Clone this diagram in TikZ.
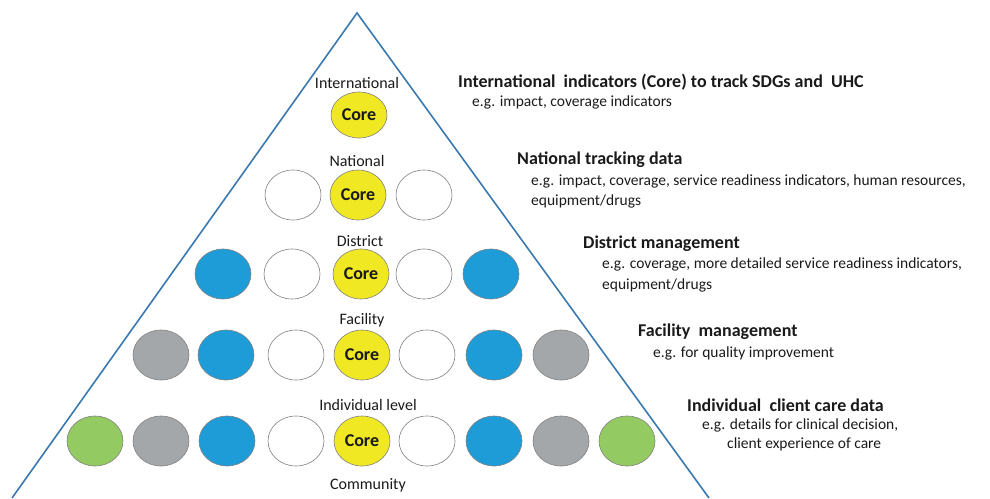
\documentclass[tikz,border=0pt]{standalone}
\usepackage{fontspec}
\setmainfont{Carlito}
\usetikzlibrary{shapes.geometric}
\definecolor{tri}{HTML}{3A78B0}
\definecolor{cyel}{HTML}{EFE822}
\definecolor{cblu}{HTML}{1E9CD7}
\definecolor{cgry}{HTML}{A4A7A9}
\definecolor{cgrn}{HTML}{93CB62}
\definecolor{txt}{HTML}{1A1A1A}
\tikzset{
  dot/.style={ellipse, draw=black!50, line width=0.6pt, minimum width=56pt, minimum height=50pt, inner sep=0pt},
  wdot/.style={dot, fill=white},
  ydot/.style={dot, fill=cyel, font=\fontsize{18}{20}\selectfont\bfseries, text=txt},
  bdot/.style={dot, fill=cblu},
  gdot/.style={dot, fill=cgry},
  edot/.style={dot, fill=cgrn},
  lvl/.style={font=\fontsize{16}{18}\selectfont, text=txt, inner sep=0pt},
  head/.style={font=\fontsize{18}{20}\selectfont\bfseries, text=txt, anchor=west, inner sep=0pt},
  sub/.style={font=\fontsize{15.5}{18}\selectfont, text=txt, anchor=west, inner sep=0pt},
}
\begin{document}
\begin{tikzpicture}[x=1pt,y=-1pt]
\useasboundingbox (0,0) rectangle (990,498);
% triangle
\coordinate (apex) at (357,13);
\coordinate (bl) at (12,498);
\coordinate (br) at (709,498);
\draw[tri, line width=1.6pt, line join=miter] (bl) -- (apex) -- (br);
% row 1
\node[lvl] (l1) at (357,83) {International};
\node[ydot, minimum height=46pt] (c1) at (359,115) {Core};
% row 2
\node[lvl] (l2) at (357,161) {National};
\node[wdot] (r2a) at (293,195) {};
\node[ydot] (c2) at (358,195) {Core};
\node[wdot] (r2b) at (424,195) {};
% row 3
\node[lvl] (l3) at (360,241) {District};
\node[bdot] (r3a) at (223,274) {};
\node[wdot] (r3b) at (292,274) {};
\node[ydot] (c3) at (361,274) {Core};
\node[wdot] (r3c) at (424,274) {};
\node[bdot] (r3d) at (491,274) {};
% row 4
\node[lvl] (l4) at (362,320) {Facility};
\node[gdot] (r4a) at (161,355) {};
\node[bdot] (r4b) at (226,355) {};
\node[wdot] (r4c) at (296,355) {};
\node[ydot] (c4) at (362,355) {Core};
\node[wdot] (r4d) at (427,355) {};
\node[bdot] (r4e) at (494,355) {};
\node[gdot] (r4f) at (561,355) {};
% row 5
\node[lvl] (l5) at (368,405) {Individual level};
\node[edot] (r5a) at (95,441) {};
\node[gdot] (r5b) at (161,441) {};
\node[bdot] (r5c) at (227,441) {};
\node[wdot] (r5d) at (296,441) {};
\node[ydot] (c5) at (362,441) {Core};
\node[wdot] (r5e) at (427,441) {};
\node[bdot] (r5f) at (494,441) {};
\node[gdot] (r5g) at (561,441) {};
\node[edot] (r5h) at (627,441) {};
\node[lvl] (l6) at (368,485) {Community};
% right texts
\node[head] (h1) at (458,82) {International\ \ indicators (Core) to track SDGs and\ \ UHC};
\node[sub] (s1) at (472,102) {e.g. impact, coverage indicators};
\node[head] (h2) at (517,160) {National tracking data};
\node[sub] (s2a) at (531,181) {e.g. impact, coverage, service readiness indicators, human resources,};
\node[sub] (s2b) at (531,201) {equipment/drugs};
\node[head] (h3) at (583,244) {District management};
\node[sub] (s3a) at (602,264) {e.g. coverage, more detailed service readiness indicators,};
\node[sub] (s3b) at (602,285) {equipment/drugs};
\node[head] (h4) at (638,332) {Facility\ \ management};
\node[sub] (s4) at (653,353) {e.g. for quality improvement};
\node[head] (h5) at (687,405) {Individual\ \ client care data};
\node[sub] (s5a) at (702,425) {e.g. details for clinical decision,};
\node[sub] (s5b) at (727,444) {client experience of care};
\end{tikzpicture}
\end{document}
